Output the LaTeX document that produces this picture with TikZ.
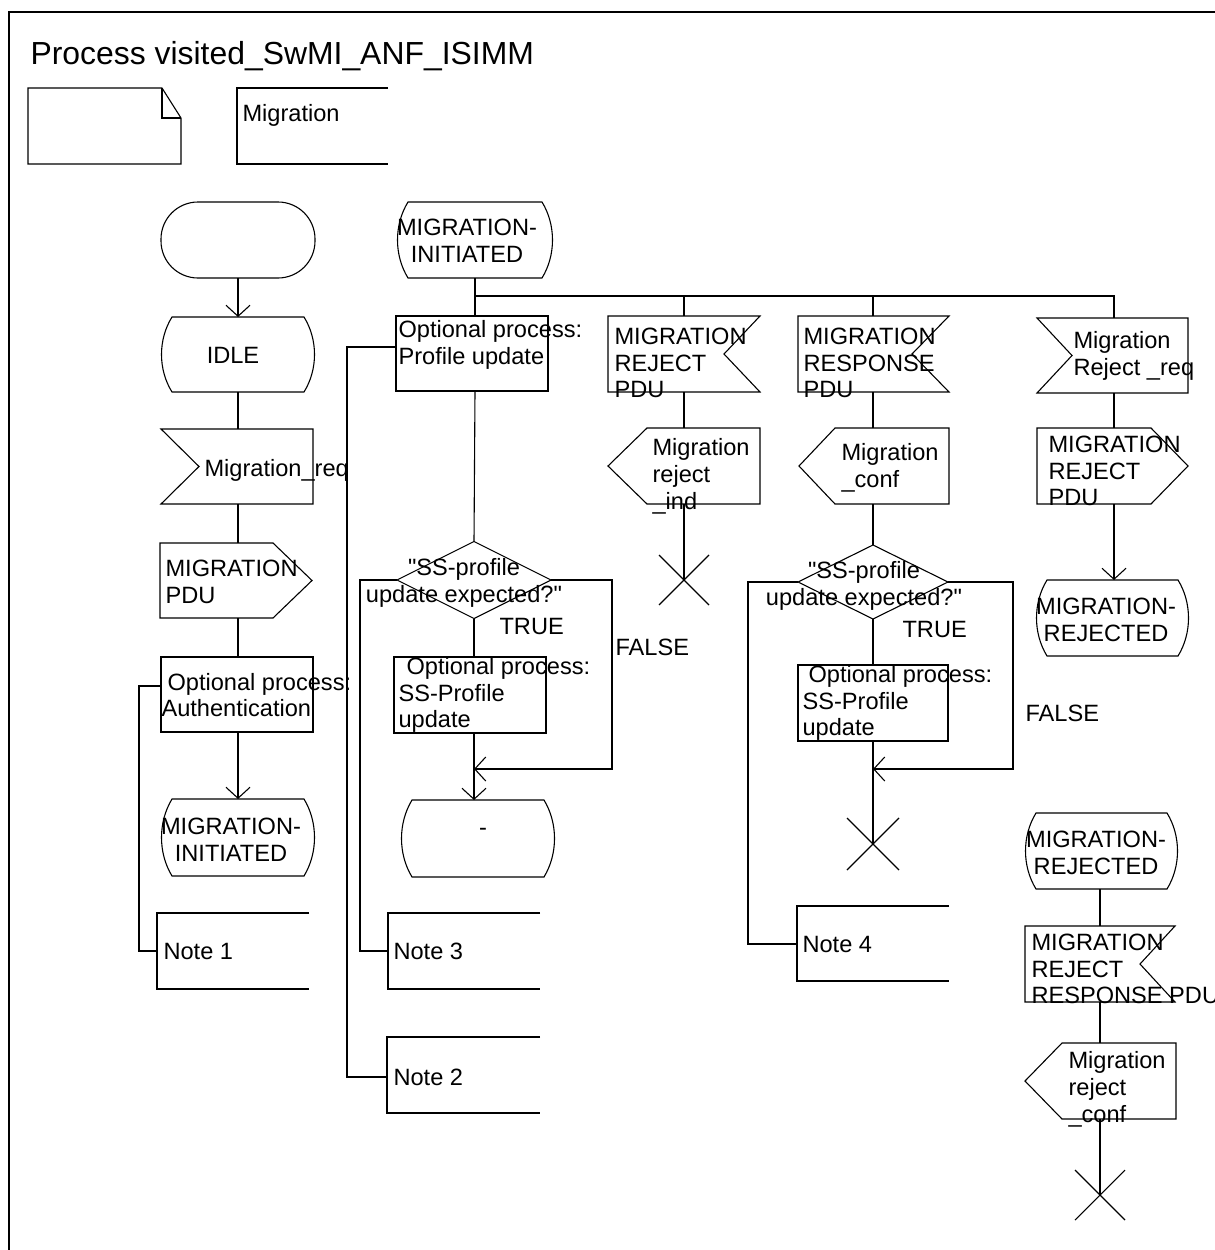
\documentclass[tikz,border=0pt]{standalone}
\usepackage{fontspec}
\newfontfamily\bodyfont{Liberation Sans}
\setmainfont{Liberation Sans}
\usetikzlibrary{arrows.meta}
\newcommand\SdlState[4]{\draw ({#1+11},#2) -- ({#3-11},#2) .. controls ({#3+3},{#2+0.3*(#4-#2)}) and ({#3+3},{#4-0.3*(#4-#2)}) .. ({#3-11},#4) -- ({#1+11},#4) .. controls ({#1-3},{#4-0.3*(#4-#2)}) and ({#1-3},{#2+0.3*(#4-#2)}) .. ({#1+11},#2) -- cycle;}
\newcommand\SdlInL[5]{\draw (#1,#2) -- (#3,#2) -- (#3,#4) -- (#1,#4) -- (#5,{(#2+#4)/2}) -- cycle;}
\newcommand\SdlInR[5]{\draw (#1,#2) -- (#3,#2) -- (#5,{(#2+#4)/2}) -- (#3,#4) -- (#1,#4) -- cycle;}
\newcommand\SdlOutR[5]{\draw (#1,#2) -- (#5,#2) -- (#3,{(#2+#4)/2}) -- (#5,#4) -- (#1,#4) -- cycle;}
\newcommand\SdlOutL[5]{\draw (#5,#2) -- (#3,#2) -- (#3,#4) -- (#5,#4) -- (#1,{(#2+#4)/2}) -- cycle;}
\newcommand\SdlNote[4]{\draw (#3,#2) -- (#1,#2) -- (#1,#4) -- (#3,#4);}
\newcommand\SdlStop[3]{\draw ({#1-#3},{#2-#3}) -- ({#1+#3},{#2+#3}) ({#1-#3},{#2+#3}) -- ({#1+#3},{#2-#3});}
\begin{document}
\begin{tikzpicture}[x=1pt,y=-1pt,line width=1.1pt,
  txt/.style={inner sep=0pt,font=\bodyfont\fontsize{23.6}{26.8}\selectfont,align=left},
  ctxt/.style={txt,align=center},
  arr/.style={-{Straight Barb[length=11pt,width=24pt]}}]
\useasboundingbox (0,0) rectangle (1215,1250);
\draw (9,1250) -- (9,12) -- (1215,12);
\node[inner sep=0pt,anchor=base west,font=\bodyfont\fontsize{31.9}{36}\selectfont] (title) at (30,64) {Process visited\_SwMI\_ANF\_ISIMM};

% header symbols
\draw (28,88) -- (162,88) -- (181,118) -- (181,164) -- (28,164) -- cycle;
\draw (162,88) -- (162,118) -- (181,118);
\draw (388,88) -- (237,88) -- (237,164) -- (388,164);
\node[txt,anchor=base west] (tmig) at (242,121) {Migration};

% ---------- left column shapes
\draw[rounded corners=37pt] (161,202) rectangle (315,278);
\SdlState{161}{317}{315}{392}
\SdlInL{161}{429}{313}{504}{199}
\SdlOutR{160}{543}{312}{618}{273}
\draw (161,657) rectangle (313,732);
\SdlState{161}{799}{315}{876}
\SdlNote{157}{913}{309}{989}

% ---------- middle column shapes
\SdlState{397}{202}{553}{278}
\draw (396,316) rectangle (548,391);
\draw (474,541.5) -- (551,580) -- (474,618.5) -- (397,580) -- cycle;
\draw (394,657) rectangle (546,733);
\SdlState{401}{800}{555}{877}
\SdlNote{388}{913}{540}{989}
\SdlNote{387}{1037}{540}{1113}

% ---------- column 3
\SdlInR{608}{316}{760}{392}{724}
\SdlOutL{608}{428}{760}{504}{647}
\SdlStop{684}{580}{25}

% ---------- column 4
\SdlInR{798}{316}{949}{392}{912}
\SdlOutL{799}{428}{949}{504}{835}
\draw (873,545) -- (948,582) -- (873,619) -- (798,582) -- cycle;
\draw (798,665) rectangle (948,741);
\SdlStop{873}{844}{26}
\SdlNote{797}{906}{949}{981}

% ---------- column 5
\SdlInL{1037}{318}{1188}{393}{1072}
\SdlOutR{1037}{428}{1188}{504}{1151}
\SdlState{1036}{580}{1189}{656}

% ---------- lower right
\SdlState{1025}{813}{1178}{889}
\SdlInR{1025}{926}{1175}{1002}{1140}
\SdlOutL{1025}{1043}{1176}{1119}{1062}
\SdlStop{1100}{1195}{25}

% ---------- coordinates
\coordinate (startB) at (238,278);
\coordinate (idleT) at (238,317);
\coordinate (idleB) at (238,392);
\coordinate (reqT) at (238,429);
\coordinate (reqB) at (238,504);
\coordinate (pduT) at (238,543);
\coordinate (pduB) at (238,618);
\coordinate (authT) at (238,657);
\coordinate (authB) at (238,732);
\coordinate (initT) at (238,799);
\coordinate (authL) at (161,686);
\coordinate (c1a) at (139,686);
\coordinate (c1b) at (139,951);
\coordinate (note1L) at (157,951);

\coordinate (minitB) at (475,278);
\coordinate (br0) at (475,296);
\coordinate (br1) at (684,296);
\coordinate (br2) at (873,296);
\coordinate (br3) at (1114,296);
\coordinate (profT) at (475,316);
\coordinate (profB) at (475,391);
\coordinate (profL) at (396,347);
\coordinate (c2a) at (347,347);
\coordinate (c2b) at (347,1077);
\coordinate (note2L) at (387,1077);
\coordinate (dec1T) at (474,541.5);
\coordinate (dec1B) at (474,618.5);
\coordinate (dec1L) at (397,580);
\coordinate (dec1R) at (551,580);
\coordinate (c3a) at (360,580);
\coordinate (c3b) at (360,951);
\coordinate (note3L) at (388,951);
\coordinate (ss1T) at (474,657);
\coordinate (ss1B) at (474,733);
\coordinate (dashT) at (474,800);
\coordinate (f1a) at (612,580);
\coordinate (f1b) at (612,769);
\coordinate (join1) at (474,769);

\coordinate (rej1T) at (684,316);
\coordinate (rej1B) at (684,392);
\coordinate (indT) at (684,428);
\coordinate (indB) at (684,504);
\coordinate (stop1) at (684,580);

\coordinate (resT) at (873,316);
\coordinate (resB) at (873,392);
\coordinate (confT) at (873,428);
\coordinate (confB) at (873,504);
\coordinate (dec2T) at (873,545);
\coordinate (dec2B) at (873,619);
\coordinate (dec2L) at (798,582);
\coordinate (dec2R) at (948,582);
\coordinate (ss2T) at (873,665);
\coordinate (ss2B) at (873,741);
\coordinate (stop2) at (873,844);
\coordinate (join2) at (873,769);
\coordinate (f2a) at (1013,582);
\coordinate (f2b) at (1013,769);
\coordinate (c4a) at (748,582);
\coordinate (c4b) at (748,944);
\coordinate (note4L) at (797,944);

\coordinate (reqrT) at (1114,318);
\coordinate (reqrB) at (1114,393);
\coordinate (rpduT) at (1114,428);
\coordinate (rpduB) at (1114,504);
\coordinate (rejdT) at (1114,580);

\coordinate (rejd2B) at (1100,889);
\coordinate (rrpT) at (1100,926);
\coordinate (rrpB) at (1100,1002);
\coordinate (rcT) at (1100,1043);
\coordinate (rcB) at (1100,1119);
\coordinate (stop3) at (1100,1195);

% ---------- connectors
\draw[arr] (startB) -- (idleT);
\draw (idleB) -- (reqT);
\draw (reqB) -- (pduT);
\draw (pduB) -- (authT);
\draw[arr] (authB) -- (initT);
\draw (authL) -- (c1a) -- (c1b) -- (note1L);

\draw (minitB) -- (profT);
\draw (br0) -- (br3) -- (reqrT);
\draw (br1) -- (rej1T);
\draw (br2) -- (resT);
\draw (profB) -- (dec1T);
\draw (profL) -- (c2a) -- (c2b) -- (note2L);
\draw (dec1L) -- (c3a) -- (c3b) -- (note3L);
\draw (dec1B) -- (ss1T);
\draw[arr] (ss1B) -- (dashT);
\draw[arr] (dec1R) -- (f1a) -- (f1b) -- (join1);

\draw (rej1B) -- (indT);
\draw (indB) -- (stop1);

\draw (resB) -- (confT);
\draw (confB) -- (dec2T);
\draw (dec2B) -- (ss2T);
\draw (ss2B) -- (stop2);
\draw[arr] (dec2R) -- (f2a) -- (f2b) -- (join2);
\draw (dec2L) -- (c4a) -- (c4b) -- (note4L);

\draw (reqrB) -- (rpduT);
\draw[arr] (rpduB) -- (rejdT);

\draw (rejd2B) -- (rrpT);
\draw (rrpB) -- (rcT);
\draw (rcB) -- (stop3);

% ---------- texts
\node[txt] (tidle) at (233,355) {IDLE};
\node[txt,anchor=base west] (treq) at (204,476) {Migration\_req};
\node[txt,anchor=west] (tpdu) at (165,582) {MIGRATION\\PDU};
\node[txt,anchor=west] (tauth) at (161,695) {\hspace*{6pt}Optional process:\\Authentication};
\node[ctxt] (tinit1) at (231,840) {MIGRATION-\\INITIATED};
\node[txt,anchor=west] (tn1) at (163,951) {Note 1};

\node[ctxt] (tinit2) at (467,241) {MIGRATION-\\INITIATED};
\node[txt,anchor=west] (tprof) at (398,345) {Optional process:\\Profile update};
\node[ctxt] (tdec1) at (464,583) {"SS-profile\\update expected?"};
\node[txt,anchor=west] (ttrue1) at (499,626) {TRUE};
\node[txt,anchor=west] (tfalse1) at (615,647) {FALSE};
\node[txt,anchor=west] (tss1) at (398,695) {\hspace*{8pt}Optional process:\\SS-Profile\\update};
\node[txt] (tdash) at (483,832) {-};
\node[txt,anchor=west] (tn3) at (393,951) {Note 3};
\node[txt,anchor=west] (tn2) at (393,1077) {Note 2};

\node[txt,anchor=west] (trej1) at (614,363) {MIGRATION\\REJECT\\PDU};
\node[txt,anchor=west] (tind) at (652,476) {Migration\\reject\\\_ind};

\node[txt,anchor=west] (tres) at (803,363) {MIGRATION\\RESPONSE\\PDU};
\node[txt,anchor=west] (tconf) at (841,468) {Migration\\\_conf};
\node[ctxt] (tdec2) at (864,586) {"SS-profile\\update expected?"};
\node[txt,anchor=west] (ttrue2) at (902,629) {TRUE};
\node[txt,anchor=west] (tfalse2) at (1025,713) {FALSE};
\node[txt,anchor=west] (tss2) at (802,703) {\hspace*{6pt}Optional process:\\SS-Profile\\update};
\node[txt,anchor=west] (tn4) at (802,944) {Note 4};

\node[txt,anchor=west] (treqr) at (1073,356) {Migration\\Reject \_req};
\node[txt,anchor=west] (trpdu) at (1048,471) {MIGRATION\\REJECT\\PDU};
\node[ctxt] (trejd1) at (1106,620) {MIGRATION-\\REJECTED};

\node[ctxt] (trejd2) at (1096,853) {MIGRATION-\\REJECTED};
\node[txt,anchor=west] (trrp) at (1031,969) {MIGRATION\\REJECT\\RESPONSE PDU};
\node[txt,anchor=west] (trc) at (1068,1089) {Migration\\reject\\\_conf};
\end{tikzpicture}
\end{document}
